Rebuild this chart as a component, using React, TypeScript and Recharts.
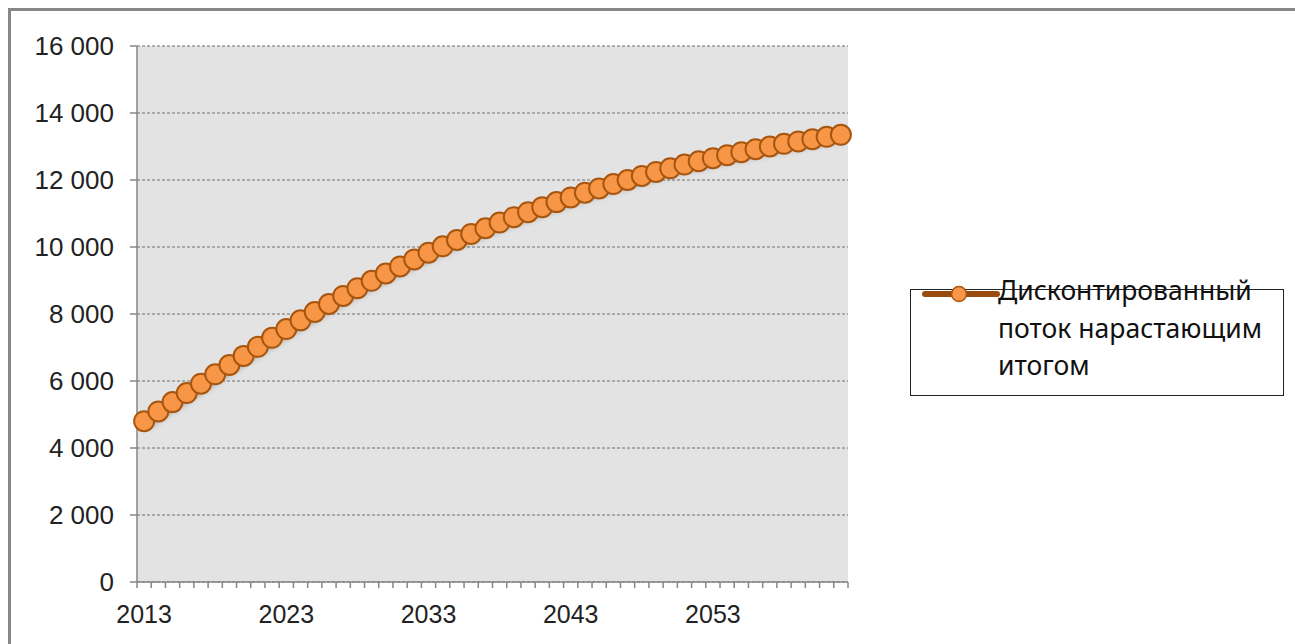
import { LineChart, Line, XAxis, YAxis, CartesianGrid } from 'recharts';

// годы расчётного периода
const years = [
    2013, 2014, 2015, 2016, 2017, 2018, 2019, 2020, 2021, 2022,
    2023, 2024, 2025, 2026, 2027, 2028, 2029, 2030, 2031, 2032,
    2033, 2034, 2035, 2036, 2037, 2038, 2039, 2040, 2041, 2042,
    2043, 2044, 2045, 2046, 2047, 2048, 2049, 2050, 2051, 2052,
    2053, 2054, 2055, 2056, 2057, 2058, 2059, 2060, 2061, 2062,
];

// дисконтированный поток нарастающим итогом
const cumulativeFlow = [
    4800, 5090, 5370, 5640, 5920, 6200, 6480, 6750, 7020, 7290,
    7550, 7810, 8060, 8300, 8540, 8770, 8990, 9210, 9420, 9630,
    9830, 10020, 10210, 10390, 10560, 10730, 10890, 11040, 11190, 11340,
    11480, 11620, 11750, 11880, 12000, 12120, 12240, 12350, 12460, 12560,
    12650, 12740, 12830, 12920, 13000, 13080, 13150, 13220, 13290, 13350,
];

const yTicks = [0, 2000, 4000, 6000, 8000, 10000, 12000, 14000, 16000];

const seriesName = 'Дисконтированный поток нарастающим итогом';

const data = years.map((year, i) => ({ year, value: cumulativeFlow[i] }));

const PLOT_WIDTH = 711;
const BAND = PLOT_WIDTH / years.length;
const AXIS_FONT = "'Liberation Sans', Arial, sans-serif";

const formatThousands = (v: number) => v.toLocaleString('ru-RU').replace(/\s/g, ' ');

const YearTick = (props: any) => {
    const { x, y, index } = props;
    const left = x - BAND / 2;
    return (
        <g>
            <line x1={left} y1={y} x2={left} y2={y + 6} stroke="#868686" strokeWidth={1.5} />
            {index === years.length - 1 && (
                <line x1={x + BAND / 2} y1={y} x2={x + BAND / 2} y2={y + 6} stroke="#868686" strokeWidth={1.5} />
            )}
            {index % 10 === 0 && (
                <text x={x} y={y + 41} textAnchor="middle" fontSize={25} fill="#222" fontFamily={AXIS_FONT}>
                    {years[index]}
                </text>
            )}
        </g>
    );
};

// легенда справа, рисуем вне области графика
const LegendBox = () => (
    <div style={{
        position: 'absolute', left: 910, top: 289,
        width: 374, height: 107, border: '1.5px solid #222', background: '#fff', boxSizing: 'border-box',
        fontFamily: "'Noto Sans', sans-serif", fontSize: 26.5, color: '#111',
    }}>
        <svg width={80} height={20} style={{ position: 'absolute', left: 10, top: -6 }}>
            <line x1={4} y1={10} x2={76} y2={10} stroke="#9b4a0d" strokeWidth={6} strokeLinecap="round" />
            <circle cx={38} cy={10} r={7.5} fill="#f79646" stroke="#a8560f" strokeWidth={1.5} />
        </svg>
        <div style={{ position: 'absolute', left: 87, top: -18, lineHeight: '37.5px', whiteSpace: 'nowrap' }}>
            Дисконтированный<br />поток нарастающим<br />итогом
        </div>
    </div>
);

export default function App() {
    return (
        <div style={{ position: 'absolute', left: 0, top: 0, width: 1295, height: 644, overflow: 'hidden', background: '#fff' }}>
            <style>{`.flow-series { filter: drop-shadow(3px 4px 3px rgba(0,0,0,0.4)); }`}</style>
            <div style={{
                position: 'absolute', left: 8, top: 8, width: 1300, height: 700,
                border: '3px solid #878787', boxSizing: 'border-box',
            }} />
            <div style={{ position: 'absolute', left: 0, top: 0 }}>
                <LineChart
                    width={1295}
                    height={644}
                    data={data}
                    margin={{ top: 46, right: 447, bottom: 22, left: 0 }}
                >
                    <CartesianGrid vertical={false} stroke="#6f6f6f" strokeDasharray="3 2" fill="#e3e3e3" />
                    <XAxis
                        dataKey="year"
                        interval={0}
                        tickSize={0}
                        tickMargin={0}
                        height={40}
                        padding={{ left: BAND / 2, right: BAND / 2 }}
                        stroke="#868686"
                        strokeWidth={1.5}
                        tick={<YearTick />}
                    />
                    <YAxis
                        domain={[0, 16000]}
                        ticks={yTicks}
                        width={137}
                        tickSize={7}
                        tickMargin={16}
                        stroke="#868686"
                        strokeWidth={1.5}
                        tickFormatter={formatThousands}
                        tick={{ fontSize: 26, fill: '#222', fontFamily: AXIS_FONT }}
                    />
                    <Line
                        className="flow-series"
                        type="linear"
                        dataKey="value"
                        name={seriesName}
                        stroke="#9b4a0d"
                        strokeWidth={5}
                        dot={{ r: 10, fill: '#f79646', stroke: '#a8560f', strokeWidth: 2 }}
                        activeDot={false}
                        isAnimationActive={false}
                    />
                </LineChart>
            </div>
            <LegendBox />
        </div>
    );
}
